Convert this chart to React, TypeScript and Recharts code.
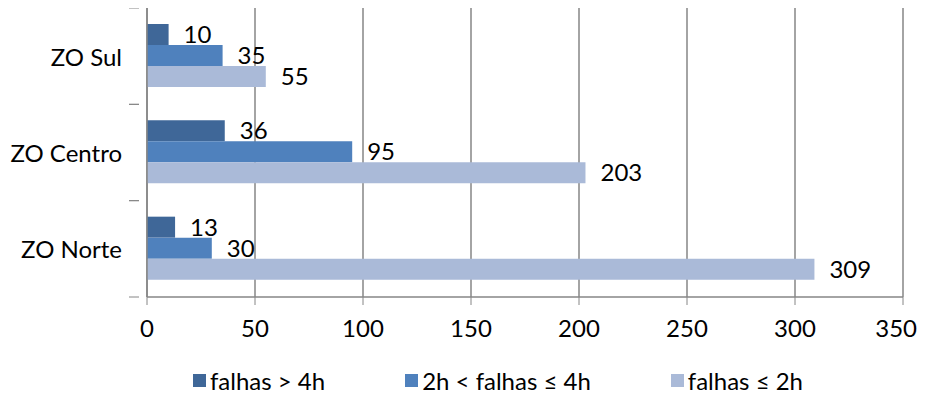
import { Bar, BarChart, CartesianGrid, LabelList, Legend, XAxis, YAxis } from "recharts";

const categories = ["ZO Sul", "ZO Centro", "ZO Norte"];
const over4h = [10, 36, 13];
const between2and4h = [35, 95, 30];
const upTo2h = [55, 203, 309];
const xTicks = [0, 50, 100, 150, 200, 250, 300, 350];

const SERIES = [
  { key: "over4h", name: "falhas > 4h", color: "#3f6798" },
  { key: "between", name: "2h < falhas ≤ 4h", color: "#4f81bd" },
  { key: "upTo2h", name: "falhas ≤ 2h", color: "#aabad8" },
];

const data = categories.map((name, i) => ({
  name,
  over4h: over4h[i],
  between: between2and4h[i],
  upTo2h: upTo2h[i],
}));

const WIDTH = 911;
const HEIGHT = 384;
const X_AXIS_H = 57;
const LEGEND_H = 38;
const PLOT_H = HEIGHT - X_AXIS_H - LEGEND_H;
const BAND = PLOT_H / categories.length;
const FONT = "Lato, 'Open Sans', sans-serif";
const FONT_SIZE = 24;
const GRID = "#868686";

// category label at band centre, tick marks at band edges (Excel style)
function CategoryTick({ x, y, payload }: any) {
  return (
    <g>
      <line x1={x - 10} x2={x} y1={y - BAND / 2} y2={y - BAND / 2} stroke={GRID} />
      <line x1={x - 10} x2={x} y1={y + BAND / 2} y2={y + BAND / 2} stroke={GRID} />
      <text x={x - 17} y={y} textAnchor="end" dominantBaseline="central" fontSize={FONT_SIZE} fill="#000" fontFamily={FONT}>
        {payload.value}
      </text>
    </g>
  );
}

// value tick labels; the last one is pulled in so it stays inside the page
function ValueTick({ x, y, payload }: any) {
  const last = payload.value === xTicks[xTicks.length - 1];
  return (
    <text
      x={last ? x + 14 : x}
      y={y}
      dy="0.71em"
      textAnchor={last ? "end" : "middle"}
      fontSize={FONT_SIZE}
      fill="#000"
      fontFamily={FONT}
    >
      {payload.value}
    </text>
  );
}

function LegendRow() {
  return (
    <div style={{ display: "flex", justifyContent: "center", paddingTop: 12, paddingLeft: 85, fontFamily: FONT, fontSize: FONT_SIZE }}>
      {SERIES.map((s) => (
        <div key={s.key} style={{ display: "flex", alignItems: "center", margin: "0 40px" }}>
          <span style={{ width: 13, height: 13, background: s.color, marginRight: 4, display: "inline-block" }} />
          <span>{s.name}</span>
        </div>
      ))}
    </div>
  );
}

export default function App() {
  return (
    <BarChart
      width={WIDTH}
      height={HEIGHT}
      data={data}
      layout="vertical"
      margin={{ top: 0, right: 16, bottom: 0, left: 0 }}
      barCategoryGap={16}
      barGap={0}
    >
      <CartesianGrid horizontal={false} stroke={GRID} strokeWidth={1.5} />
      <XAxis
        type="number"
        domain={[0, 350]}
        ticks={xTicks}
        height={X_AXIS_H}
        axisLine={{ stroke: GRID, strokeWidth: 1.5 }}
        tickLine={{ stroke: GRID }}
        tickSize={8}
        tickMargin={15}
        tick={<ValueTick />}
      />
      <YAxis
        type="category"
        dataKey="name"
        width={139}
        axisLine={{ stroke: GRID, strokeWidth: 1.5 }}
        tickLine={false}
        tick={<CategoryTick />}
      />
      <Legend verticalAlign="bottom" height={LEGEND_H} content={<LegendRow />} />
      {SERIES.map((s) => (
        <Bar key={s.key} dataKey={s.key} name={s.name} fill={s.color} isAnimationActive={false}>
          <LabelList dataKey={s.key} position="right" offset={15} fill="#000" fontSize={FONT_SIZE} fontFamily={FONT} />
        </Bar>
      ))}
    </BarChart>
  );
}
